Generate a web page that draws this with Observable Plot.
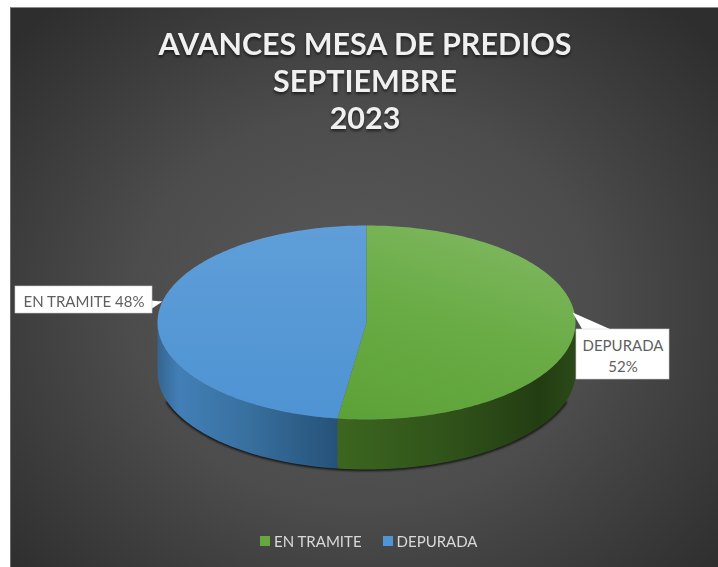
<!DOCTYPE html>
<html lang="es">
<head>
<meta charset="utf-8">
<script src="https://cdn.jsdelivr.net/npm/d3@7"></script>
<script src="https://cdn.jsdelivr.net/npm/@observablehq/plot@0.6"></script>
<style>
  html, body { margin: 0; padding: 0; background: #fff; }
  #page { position: relative; width: 718px; height: 567px; overflow: hidden; font-family: Lato, sans-serif; }
  #panel { position: absolute; left: 10px; top: 7px; right: 0; bottom: 0;
    border-top: 1px solid #8a8a8a; border-left: 1px solid #6a6a6a;
    background: radial-gradient(ellipse 470px 400px at 352px 300px, #5a5a5a 0%, #4c4c4c 50%, #3a3a3a 80%, #2e2e2e 100%); }
  #title { position: absolute; left: 0; width: 730px; top: 25px; text-align: center; color: #f0f0f0;
    font-weight: 700; font-size: 31px; line-height: 37px; transform: scaleX(.983);
    text-shadow: 0 2px 3px rgba(0,0,0,.6); filter: blur(.45px); }
  #legend { position: absolute; top: 532px; left: 260px; display: flex; align-items: center;
    color: #d9d9d9; font-size: 15px; line-height: 18px; filter: blur(.45px); }
  #legend i { display: inline-block; width: 10px; height: 10px; margin-right: 4px; }
  #legend span { display: flex; align-items: center; margin-right: 21px; }
  #chart { position: absolute; left: 0; top: 0; filter: blur(.45px); }
</style>
</head>
<body>
<div id="page">
  <div id="panel"></div>
  <div id="chart"></div>
  <div id="title"></div>
  <div id="legend"></div>
</div>
<script>
// Chart data
const titleLines = ["AVANCES MESA DE PREDIOS", "SEPTIEMBRE", "2023"];
const legendNames = ["EN TRAMITE", "DEPURADA"];
const legendColors = ["#66a83f", "#4f94d6"];
const sliceShares = [52.2, 47.8];
const sliceLabels = ["DEPURADA\n52%", "EN TRAMITE 48%"];

// Pie geometry, in unit-ellipse space
const depth = 0.515;
const total = d3.sum(sliceShares);
const cum = d3.cumsum(sliceShares);
const starts = [0, cum[0]].map(v => v / total * 2 * Math.PI);
const ends = cum.map(v => v / total * 2 * Math.PI);
const STEP = Math.PI / 180;
function arc(a0, a1) {
  const pts = [];
  const n = Math.max(2, Math.ceil((a1 - a0) / STEP));
  for (let i = 0; i <= n; ++i) {
    const a = a0 + (a1 - a0) * i / n;
    pts.push({x: Math.sin(a), y: Math.cos(a)});
  }
  return pts;
}
const face = (a0, a1) => [{x: 0, y: 0}, ...arc(a0, a1), {x: 0, y: 0}];
function wall(a0, a1) {
  const lo = Math.max(a0, Math.PI / 2), hi = Math.min(a1, 3 * Math.PI / 2);
  const top = arc(lo, hi);
  const bot = top.map(p => ({x: p.x, y: p.y - depth})).reverse();
  return [...top, ...bot, top[0]];
}
const rim = arc(Math.PI * 0.6, Math.PI * 1.4).map(p => ({x: p.x, y: p.y - depth}));

// Conversions used only to place the callouts next to the pie
const fx = px => (px - 366) / 209;
const fy = py => (322 - py) / 97;
const edge = [
  {x: fx(572), y: fy(312)},
  {x: fx(162), y: fy(301)}
];
const boxes = [
  {x1: fx(576), x2: fx(669), y1: fy(329), y2: fy(379)},
  {x1: fx(15), x2: fx(152), y1: fy(286), y2: fy(313)}
];
const pointers = [
  [edge[0], {x: fx(583), y: fy(331)}, {x: fx(615), y: fy(331)}, edge[0]],
  [edge[1], {x: fx(150), y: fy(300)}, {x: fx(150), y: fy(309)}, edge[1]]
];
const labelRows = sliceLabels.map((label, i) => ({
  label,
  x: (boxes[i].x1 + boxes[i].x2) / 2,
  y: (boxes[i].y1 + boxes[i].y2) / 2
}));

const defs = () => d3.create("svg:defs").html(`
  <linearGradient id="gTop" x1="0.5" y1="0" x2="0.1" y2="1">
    <stop offset="0" stop-color="#7cb65c"/><stop offset="0.45" stop-color="#69ab45"/><stop offset="1" stop-color="#5da238"/>
  </linearGradient>
  <linearGradient id="bTop" x1="0.6" y1="0" x2="0.6" y2="1">
    <stop offset="0" stop-color="#5f9ed8"/><stop offset="1" stop-color="#4e93d3"/>
  </linearGradient>
  <linearGradient id="gWall" x1="0" y1="0" x2="1" y2="0">
    <stop offset="0" stop-color="#3c6620"/><stop offset="0.5" stop-color="#2f5119"/><stop offset="0.85" stop-color="#233d12"/><stop offset="1" stop-color="#2b4a17"/>
  </linearGradient>
  <linearGradient id="bWall" x1="0" y1="0" x2="1" y2="0">
    <stop offset="0" stop-color="#35658f"/><stop offset="0.12" stop-color="#427fb7"/><stop offset="0.5" stop-color="#38709f"/><stop offset="1" stop-color="#265278"/>
  </linearGradient>
`).node();

const poly = (data, fill) => Plot.line(data, {x: "x", y: "y", fill, stroke: "none"});

const chart = Plot.plot({
  width: 718,
  height: 567,
  margin: 0,
  style: {background: "transparent"},
  x: {domain: [-1, 1], range: [157, 575], axis: null},
  y: {domain: [-1, 1], range: [419, 225], axis: null},
  marks: [
    defs,
    Plot.line(rim, {x: "x", y: "y", stroke: "#111", strokeWidth: 3, imageFilter: "blur(1.2px)"}),
    poly(wall(starts[1], ends[1]), "url(#bWall)"),
    poly(wall(starts[0], ends[0]), "url(#gWall)"),
    poly(face(starts[1], ends[1]), "url(#bTop)"),
    poly(face(starts[0], ends[0]), "url(#gTop)"),
    poly(pointers[0], "#fff"),
    poly(pointers[1], "#fff"),
    Plot.rect(boxes, {x1: "x1", x2: "x2", y1: "y1", y2: "y2", fill: "#fff", stroke: "#cfcfcf", strokeWidth: 0.6}),
    Plot.text(labelRows, {
      x: "x", y: "y", text: "label", fill: "#5f5f5f",
      fontFamily: "Lato, sans-serif", fontSize: 15, lineHeight: 1.45, lineAnchor: "middle"
    })
  ]
});
document.getElementById("chart").appendChild(chart);

document.getElementById("title").innerHTML = titleLines.map(t => `<div>${t}</div>`).join("");
document.getElementById("legend").innerHTML = legendNames
  .map((n, i) => `<span><i style="background:${legendColors[i]}"></i>${n}</span>`).join("");
</script>
</body>
</html>
